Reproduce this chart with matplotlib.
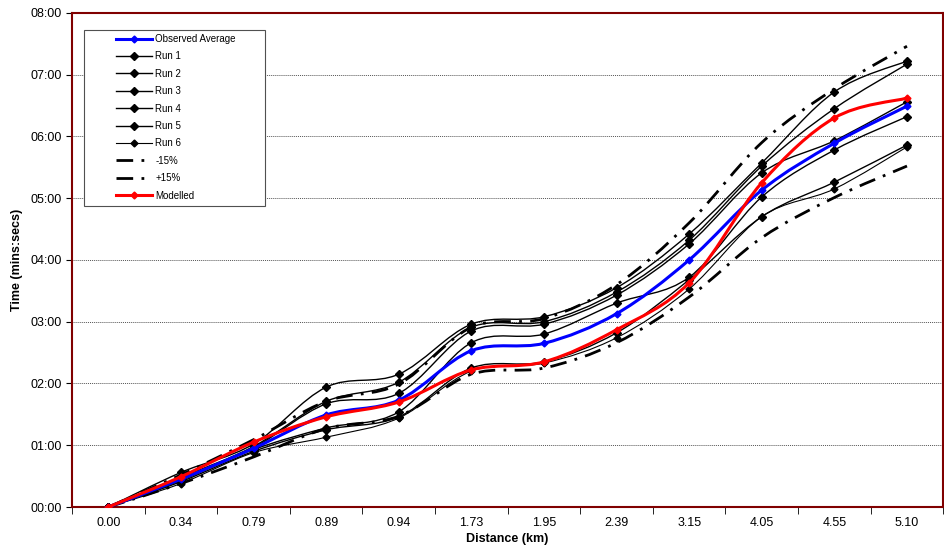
import matplotlib
matplotlib.use('Agg')
import matplotlib.pyplot as plt
from matplotlib.path import Path
from matplotlib.patches import PathPatch, Rectangle
from matplotlib.lines import Line2D
from matplotlib.ticker import FuncFormatter, FixedLocator

plt.rcParams['font.family'] = ['Liberation Sans', 'DejaVu Sans']

distances = ['0.00', '0.34', '0.79', '0.89', '0.94', '1.73', '1.95', '2.39', '3.15', '4.05', '4.55', '5.10']

# times in minutes
observed_avg = [0, 0.45, 0.95, 1.49, 1.73, 2.53, 2.65, 3.13, 4.00, 5.13, 5.89, 6.49]
run1 = [0, 0.56, 1.02, 1.94, 2.15, 2.96, 3.08, 3.55, 4.42, 5.57, 6.72, 7.22]
run2 = [0, 0.48, 0.98, 1.71, 2.02, 2.91, 3.00, 3.48, 4.32, 5.52, 6.45, 7.17]
run3 = [0, 0.46, 0.96, 1.67, 1.84, 2.85, 2.96, 3.43, 4.26, 5.41, 5.93, 6.56]
run4 = [0, 0.43, 0.93, 1.28, 1.54, 2.66, 2.80, 3.30, 3.72, 5.02, 5.78, 6.32]
run5 = [0, 0.41, 0.90, 1.25, 1.46, 2.25, 2.35, 2.82, 3.68, 4.70, 5.26, 5.86]
run6 = [0, 0.38, 0.88, 1.13, 1.44, 2.20, 2.33, 2.74, 3.53, 4.70, 5.15, 5.83]
minus15 = [0, 0.38, 0.81, 1.27, 1.47, 2.15, 2.25, 2.66, 3.40, 4.36, 5.01, 5.52]
plus15 = [0, 0.52, 1.09, 1.71, 1.99, 2.91, 3.05, 3.60, 4.60, 5.90, 6.77, 7.46]
modelled = [0, 0.49, 1.05, 1.46, 1.70, 2.22, 2.35, 2.87, 3.63, 5.25, 6.30, 6.62]


def smooth_path(xs, ys):
    # excel style smoothed line, bezier through each point
    verts = [(xs[0], ys[0])]
    codes = [Path.MOVETO]
    n = len(xs)
    for i in range(n - 1):
        x0, y0 = (xs[i - 1], ys[i - 1]) if i > 0 else (xs[i], ys[i])
        x1, y1 = xs[i], ys[i]
        x2, y2 = xs[i + 1], ys[i + 1]
        x3, y3 = (xs[i + 2], ys[i + 2]) if i + 2 < n else (x2, y2)
        c1 = (x1 + (x2 - x0) / 6, y1 + (y2 - y0) / 6)
        c2 = (x2 - (x3 - x1) / 6, y2 - (y3 - y1) / 6)
        verts += [c1, c2, (x2, y2)]
        codes += [Path.CURVE4] * 3
    return Path(verts, codes)


def draw(ax, ys, label, color, lw, ls='-', marker=None, ms=4, z=2):
    xs = list(range(len(ys)))
    patch = PathPatch(smooth_path(xs, ys), facecolor='none', edgecolor=color,
                      lw=lw, linestyle=ls, zorder=z, capstyle='butt')
    ax.add_patch(patch)
    if marker:
        ax.plot(xs, ys, linestyle='none', marker=marker, ms=ms, color=color, zorder=z + 0.1)
    return Line2D([], [], color=color, lw=lw, linestyle=ls, marker=marker, ms=ms, label=label)


fig = plt.figure(figsize=(9.45, 5.59), dpi=100)
ax = fig.add_axes([0.0762, 0.093, 0.922, 0.884])

dashdot = (0, (6, 3, 1, 3))
handles = []
handles.append(draw(ax, observed_avg, 'Observed Average', '#0000ff', 2.2, marker='D', ms=3.5, z=4))
for i, r in enumerate([run1, run2, run3, run4, run5, run6]):
    lw = 0.8 if i == 5 else 1.0
    handles.append(draw(ax, r, 'Run %d' % (i + 1), 'black', lw, marker='D', ms=4.5 if i < 5 else 3.5))
handles.append(draw(ax, minus15, '-15%', 'black', 2.0, ls=dashdot, z=3))
handles.append(draw(ax, plus15, '+15%', 'black', 2.0, ls=dashdot, z=3))
handles.append(draw(ax, modelled, 'Modelled', '#ff0000', 2.2, marker='D', ms=3.5, z=5))

# legend box is wider than the entries, as in excel
ax.add_patch(Rectangle((0.0138, 0.6093), 0.2078, 0.3563, transform=ax.transAxes,
                       facecolor='white', edgecolor='#505050', lw=0.8, zorder=6))
leg = ax.legend(handles=handles, loc='upper left', bbox_to_anchor=(0.0505, 0.957),
                fontsize=7, frameon=False, handlelength=3.7, handletextpad=0.35,
                labelspacing=0.76, borderpad=0, numpoints=1, borderaxespad=0)
leg.set_zorder(7)

ax.set_xlim(-0.5, len(distances) - 0.5)
ax.set_ylim(0, 8)
ax.set_xticks(range(len(distances)))
ax.set_xticklabels(distances)
ax.xaxis.set_minor_locator(FixedLocator([i - 0.5 for i in range(len(distances) + 1)]))
ax.tick_params(axis='x', which='major', length=0, labelsize=9, pad=7)
ax.tick_params(axis='x', which='minor', length=5, direction='out', color='black')
ax.set_yticks(range(0, 9))
ax.yaxis.set_major_formatter(FuncFormatter(lambda v, p: '%02d:00' % int(v)))
ax.tick_params(axis='y', labelsize=9, length=4, direction='out')
ax.grid(axis='y', color='#555555', linestyle=(0, (1, 1)), linewidth=0.7)
ax.set_axisbelow(True)

for s in ax.spines.values():
    s.set_color('#800000')
    s.set_linewidth(1.5)

ax.set_xlabel('Distance (km)', fontsize=9, fontweight='bold', labelpad=3)
ax.set_ylabel('Time (mins:secs)', fontsize=9, fontweight='bold', labelpad=5)

fig.savefig('out.png', dpi=100)
